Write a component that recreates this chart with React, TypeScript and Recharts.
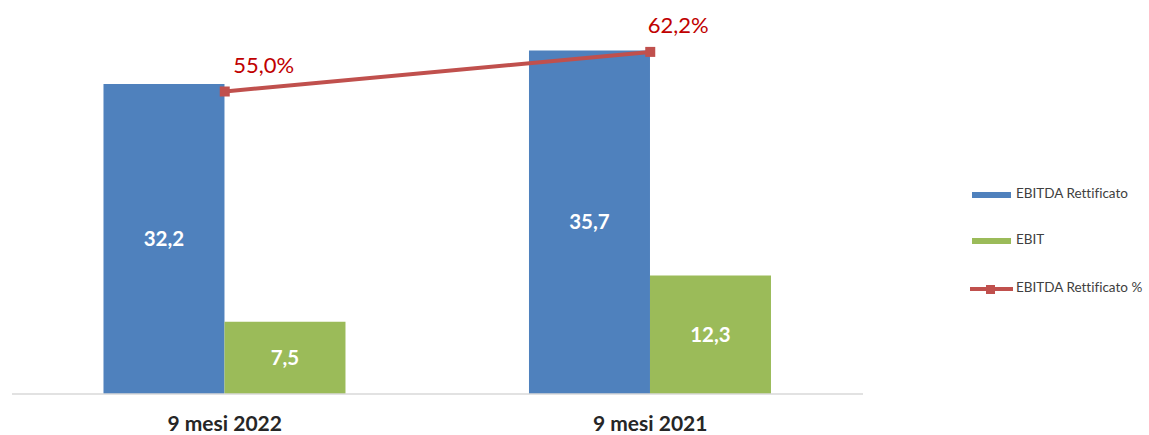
import React from 'react';
import { ComposedChart, Bar, Line, XAxis, YAxis, Legend, LabelList } from 'recharts';

const categories = ['9 mesi 2022', '9 mesi 2021'];
const ebitdaRett = [32.2, 35.7];
const ebit = [7.5, 12.3];
const ebitdaPct = [55.0, 62.2];
const seriesNames = ['EBITDA Rettificato', 'EBIT', 'EBITDA Rettificato %'];

const data = categories.map((c, i) => ({
  name: c,
  ebitdaRett: ebitdaRett[i],
  ebit: ebit[i],
  ebitdaPct: ebitdaPct[i],
}));

const BLUE = '#4f81bd';
const GREEN = '#9bbb59';
const RED = '#c0504d';
const FONT = 'Lato, "Open Sans", sans-serif';
const NOLIG: React.CSSProperties = { fontVariantLigatures: 'none' };
const PCT_LABEL_DX = [39, 28];

const fmt = (v: any) => Number(v).toFixed(1).replace('.', ',');

const PctLabel = (props: any) => {
  const { x, y, value, index } = props;
  const dx = PCT_LABEL_DX[index] ?? 33;
  return (
    <text x={x + dx} y={y - 24} textAnchor="middle" dominantBaseline="middle" fill="#c00000" fontSize={22} fontFamily={FONT}>
      {fmt(value)}%
    </text>
  );
};

const LegendContent = () => (
  <svg width={177} height={120} style={{ display: 'block', overflow: 'visible' }}>
    <rect x={2} y={12} width={39} height={6} fill={BLUE} />
    <text x={46} y={15} dominantBaseline="middle" fontSize={13.5} fill="#404040" fontFamily={FONT} style={NOLIG}>{seriesNames[0]}</text>
    <rect x={2} y={58} width={39} height={6} fill={GREEN} />
    <text x={46} y={61} dominantBaseline="middle" fontSize={13.5} fill="#404040" fontFamily={FONT} style={NOLIG}>{seriesNames[1]}</text>
    <line x1={0} y1={109} x2={43} y2={109} stroke={RED} strokeWidth={4} />
    <rect x={16} y={105} width={9} height={9} fill={RED} />
    <text x={46} y={109} dominantBaseline="middle" fontSize={13.5} fill="#404040" fontFamily={FONT} style={NOLIG}>{seriesNames[2]}</text>
  </svg>
);

export default function App() {
  return (
    <div style={{ position: 'absolute', left: 0, top: 0, background: '#fff' }}>
      <ComposedChart
        width={1149}
        height={435}
        data={data}
        margin={{ top: 9, right: 286, bottom: 0, left: 12 }}
        barGap={0}
        barCategoryGap="21.5%"
      >
        <XAxis
          dataKey="name"
          height={41}
          axisLine={{ stroke: '#d9d9d9', strokeWidth: 1.5 }}
          tickLine={false}
          tickSize={0}
          tickMargin={22}
          tick={{ fill: '#262626', fontSize: 21, fontWeight: 'bold', fontFamily: FONT }}
        />
        <YAxis yAxisId="left" domain={[0, 40]} hide />
        <YAxis yAxisId="right" orientation="right" domain={[0, 70]} hide />
        <Bar yAxisId="left" dataKey="ebitdaRett" name={seriesNames[0]} fill={BLUE} isAnimationActive={false}>
          <LabelList dataKey="ebitdaRett" position="center" formatter={fmt} fill="#fff" fontSize={20.5} fontWeight="bold" fontFamily={FONT} />
        </Bar>
        <Bar yAxisId="left" dataKey="ebit" name={seriesNames[1]} fill={GREEN} isAnimationActive={false}>
          <LabelList dataKey="ebit" position="center" formatter={fmt} fill="#fff" fontSize={20.5} fontWeight="bold" fontFamily={FONT} />
        </Bar>
        <Line
          yAxisId="right"
          dataKey="ebitdaPct"
          name={seriesNames[2]}
          stroke={RED}
          strokeWidth={4}
          isAnimationActive={false}
          dot={(p: any) => <rect key={p.index} x={p.cx - 5} y={p.cy - 5} width={10} height={10} fill={RED} />}
        >
          <LabelList dataKey="ebitdaPct" content={<PctLabel />} />
        </Line>
        <Legend
          content={<LegendContent />}
          wrapperStyle={{ left: 970, top: 180, width: 177, height: 0, overflow: 'visible', bottom: 'auto' }}
        />
      </ComposedChart>
    </div>
  );
}
